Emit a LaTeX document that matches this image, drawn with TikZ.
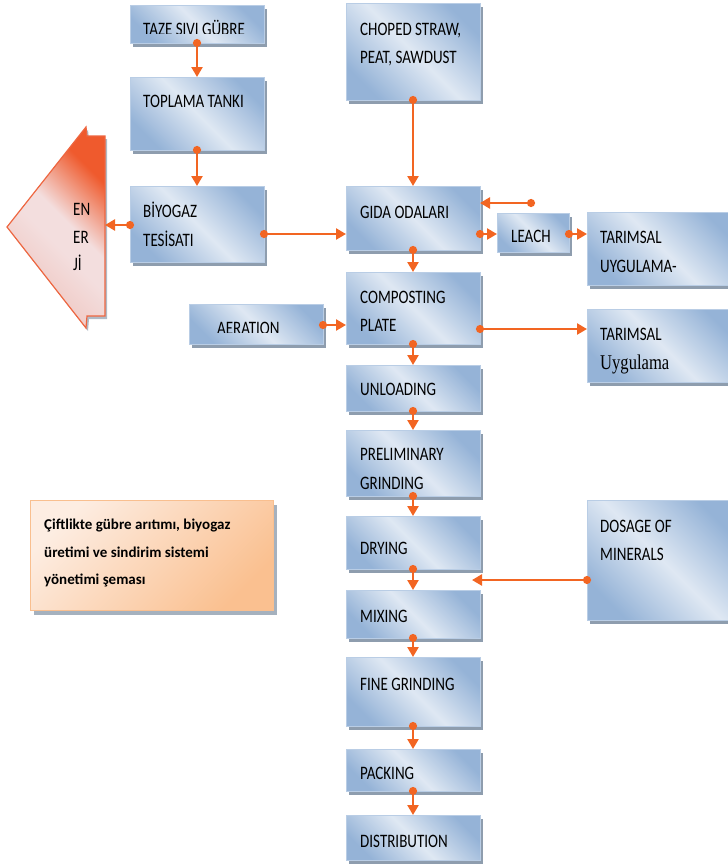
\documentclass[tikz,border=0pt]{standalone}
\usepackage{fontspec}
\setmainfont{Carlito}[FakeStretch=0.79]
\newfontfamily\serifu{Liberation Serif}[FakeStretch=0.79]
\newfontfamily\capfont{Carlito}
\usetikzlibrary{arrows.meta,shadows}
\definecolor{bdark}{HTML}{95B3D7}
\definecolor{blight}{HTML}{DFE8F3}
\definecolor{bedge}{HTML}{B9CDE5}
\definecolor{shad}{HTML}{8E9DAE}
\definecolor{conn}{HTML}{F26522}
\definecolor{edark}{HTML}{EF5A2D}
\definecolor{elight}{HTML}{F3DEDE}
\definecolor{emid}{HTML}{F0C9C4}
\definecolor{eedge}{HTML}{EE6640}
\definecolor{plight}{HTML}{FDEDE2}
\definecolor{pdark}{HTML}{FAC090}
\definecolor{pedge}{HTML}{F9BF8F}
\pgfdeclareverticalshading{enshade}{100bp}{color(0bp)=(emid); color(30bp)=(emid); color(46bp)=(elight); color(54bp)=(elight); color(72bp)=(edark); color(100bp)=(edark)}
\newcommand\bx[5]{\node[box, minimum width=#4pt, minimum height=#5pt] (#1) at (#2,#3) {};}
\newcommand\tx[4]{\node[lbl] (#1) at (#2,#3) {#4};}
\begin{document}
\begin{tikzpicture}[x=1pt,y=-1pt,
  box/.style={draw=bedge, line width=0.8pt, shading=axis, top color=bdark, bottom color=bdark, middle color=blight, shading angle=-45,
    drop shadow={shadow xshift=3pt, shadow yshift=-4pt, fill=shad, opacity=1}, inner sep=0pt, outer sep=0pt, anchor=north west},
  lbl/.style={anchor=base west, inner sep=0pt, font=\fontsize{19}{20}\selectfont, text=black},
  link/.style={conn, line width=2.6pt, shorten <=-4pt, {Circle[length=8pt]}-{Triangle[length=10pt,width=11pt]}}]
\useasboundingbox (0,0) rectangle (728,865);

% ENERJI arrow
\path[draw=eedge, line width=1.2pt, shading=enshade, shading angle=-45,
  drop shadow={shadow xshift=2pt, shadow yshift=-3pt, fill=shad, opacity=0.7}]
  (7,227) -- (86,127) -- (87,136) -- (105,136) -- (105,316) -- (87,316) -- (86,328) -- cycle;
\coordinate (enerji) at (105,225);
\tx{en1}{73}{215}{EN}
\tx{en2}{73}{243}{ER}
\tx{en3}{73}{270}{Jİ}

% boxes
\bx{taze}{130}{5}{134}{38}
\bx{topl}{130}{77}{134}{73}
\bx{biyo}{130}{186}{134}{76}
\bx{chop}{346}{3}{134}{97}
\bx{gida}{346}{186}{134}{64}
\bx{leach}{497}{213}{72}{39}
\bx{tar1}{587}{212}{150}{73}
\bx{comp}{346}{272}{134}{72}
\bx{aer}{189}{304}{134}{40}
\bx{tar2}{587}{309}{150}{73}
\bx{unl}{346}{365}{134}{46}
\bx{pre}{346}{430}{134}{66}
\bx{dry}{346}{516}{134}{53}
\bx{dos}{587}{500}{150}{120}
\bx{mix}{346}{590}{134}{48}
\bx{fine}{346}{657}{134}{69}
\bx{pack}{346}{749}{134}{42}
\bx{dist}{346}{815}{134}{45}

% caption box
\node[draw=pedge, line width=1pt, shading=axis, top color=plight, bottom color=pdark, shading angle=45,
  drop shadow={shadow xshift=3pt, shadow yshift=-4pt, fill=shad, opacity=0.8},
  minimum width=243pt, minimum height=110pt, inner sep=0pt, anchor=north west] (cap) at (30,500) {};
\begin{scope}[lbl/.append style={font=\capfont\bfseries\fontsize{15}{16}\selectfont}]
\tx{c1}{44}{529}{Çiftlikte gübre arıtımı, biyogaz}
\tx{c2}{44}{557}{üretimi ve sindirim sistemi}
\tx{c3}{44}{584}{yönetimi şeması}
\end{scope}

% texts
\begin{scope}
\clip (130,5) rectangle (264,33);
\tx{t1}{143}{35}{TAZE SIVI GÜBRE}
\end{scope}
\tx{t2}{143}{107}{TOPLAMA TANKI}
\tx{t3a}{143}{217}{BİYOGAZ}
\tx{t3b}{143}{246}{TESİSATI}
\tx{t4a}{360}{35}{CHOPED STRAW,}
\tx{t4b}{360}{63}{PEAT, SAWDUST}
\tx{t5}{360}{218}{GIDA ODALARI}
\tx{t6}{511}{242}{LEACH}
\tx{t7a}{600}{243}{TARIMSAL}
\tx{t7b}{600}{272}{UYGULAMA-}
\tx{t8a}{360}{303}{COMPOSTING}
\tx{t8b}{360}{331}{PLATE}
\begin{scope}
\clip (189,304) rectangle (324,332);
\tx{t9}{217}{334}{AERATION}
\end{scope}
\tx{t10a}{600}{340}{TARIMSAL}
\node[lbl, font=\serifu\fontsize{21}{22}\selectfont] (t10b) at (600,369) {Uygulama};
\tx{t11}{360}{395}{UNLOADING}
\tx{t12a}{360}{460}{PRELIMINARY}
\tx{t12b}{360}{489}{GRINDING}
\tx{t13}{360}{554}{DRYING}
\tx{t14a}{600}{532}{DOSAGE OF}
\tx{t14b}{600}{560}{MINERALS}
\tx{t15}{360}{622}{MIXING}
\tx{t16}{360}{690}{FINE GRINDING}
\tx{t17}{360}{779}{PACKING}
\tx{t18}{360}{847}{DISTRIBUTION}

% connectors
\coordinate (gfree) at (531,203);
\coordinate (mixin) at (472,580);
\draw[link] (taze.south) -- (topl.north);
\draw[link] (topl.south) -- (biyo.north);
\draw[link] (biyo.west |- enerji) -- (enerji);
\draw[link] (biyo.east |- 0,234) -- (gida.west |- 0,234);
\draw[link] (chop.south) -- (gida.north);
\draw[link] (gfree) -- (gida.east |- gfree);
\draw[link] (gida.east |- 0,234) -- (leach.west |- 0,234);
\draw[link] (leach.east |- 0,234) -- (tar1.west |- 0,234);
\draw[link] (gida.south) -- (comp.north);
\draw[link] (aer.east |- 0,325) -- (comp.west |- 0,325);
\draw[link] (comp.east |- 0,329) -- (tar2.west |- 0,329);
\draw[link] (comp.south) -- (unl.north);
\draw[link] (unl.south) -- (pre.north);
\draw[link] (pre.south) -- (dry.north);
\draw[link] (dry.south) -- (mix.north);
\draw[link] (dos.west |- mixin) -- (mixin);
\draw[link] (mix.south) -- (fine.north);
\draw[link] (fine.south) -- (pack.north);
\draw[link] (pack.south) -- (dist.north);
\end{tikzpicture}
\end{document}
